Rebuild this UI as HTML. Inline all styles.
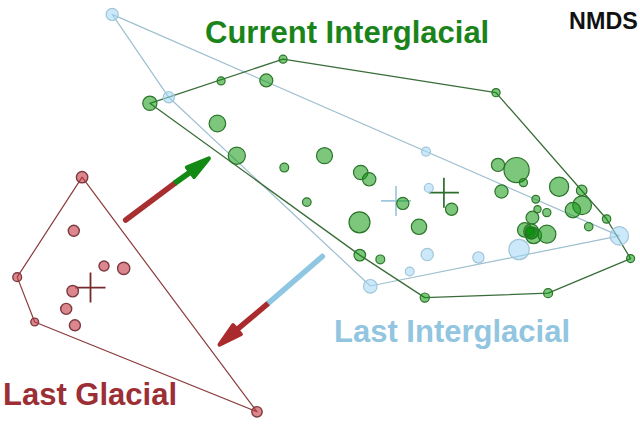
<!DOCTYPE html>
<html><head><meta charset="utf-8"><style>
html,body{margin:0;padding:0;background:#fff;width:640px;height:426px;overflow:hidden}
svg{display:block}
text{font-family:"Liberation Sans",sans-serif;font-weight:bold}
</style></head><body>
<svg width="640" height="426" viewBox="0 0 640 426" xmlns="http://www.w3.org/2000/svg">
<g transform="translate(0.1,0.4)">
<polygon points="112.1,14 619.2,235.5 370.2,285.6 168.7,96.9" fill="none" stroke="#9dbfcf" stroke-width="1.2" stroke-linejoin="round"/>
<polygon points="149.75,102.9 283,58.75 495.9,92.25 606.5,218.6 630.5,258.2 548,292.8 424.7,297.2 359.7,254.7" fill="none" stroke="#3a6d3a" stroke-width="1.3" stroke-linejoin="round"/>
<polygon points="82,176.8 256.9,411.4 34.6,321.6 17.1,276.75" fill="none" stroke="#8c3b3b" stroke-width="1.2" stroke-linejoin="round"/>
<path d="M380.9,200.5H410.9M395.9,185.5V215.5" stroke="#a0c8dc" stroke-width="1.7" fill="none"/>
<path d="M428.8,192.3H458.8M443.8,177.3V207.3" stroke="#2b6e2b" stroke-width="1.7" fill="none"/>
<path d="M75.4,287.2H105.4M90.4,272.2V302.2" stroke="#772a2e" stroke-width="1.8" fill="none"/>
<circle cx="112.1" cy="14" r="6.1" fill="rgba(160,215,245,0.55)" stroke="#a2c6d8" stroke-width="1.2"/><circle cx="168.7" cy="96.9" r="5.6" fill="rgba(160,215,245,0.55)" stroke="#a2c6d8" stroke-width="1.2"/><circle cx="425.9" cy="151.2" r="4.5" fill="rgba(160,215,245,0.55)" stroke="#a2c6d8" stroke-width="1.2"/><circle cx="428.7" cy="187.6" r="4.5" fill="rgba(160,215,245,0.55)" stroke="#a2c6d8" stroke-width="1.2"/><circle cx="427.1" cy="254.1" r="6.1" fill="rgba(160,215,245,0.55)" stroke="#a2c6d8" stroke-width="1.2"/><circle cx="409.6" cy="271.1" r="4.4" fill="rgba(160,215,245,0.55)" stroke="#a2c6d8" stroke-width="1.2"/><circle cx="370.2" cy="285.9" r="6.8" fill="rgba(160,215,245,0.55)" stroke="#a2c6d8" stroke-width="1.2"/><circle cx="478.3" cy="257.1" r="5.6" fill="rgba(160,215,245,0.55)" stroke="#a2c6d8" stroke-width="1.2"/><circle cx="518.9" cy="249.1" r="10.2" fill="rgba(160,215,245,0.55)" stroke="#a2c6d8" stroke-width="1.2"/><circle cx="619.2" cy="235.5" r="9.2" fill="rgba(160,215,245,0.55)" stroke="#a2c6d8" stroke-width="1.2"/>
<circle cx="149.75" cy="102.9" r="7.1" fill="rgba(10,150,10,0.53)" stroke="#2a7529" stroke-width="1.2"/><circle cx="221" cy="80.5" r="4" fill="rgba(10,150,10,0.53)" stroke="#2a7529" stroke-width="1.2"/><circle cx="266.2" cy="80" r="6.5" fill="rgba(10,150,10,0.53)" stroke="#2a7529" stroke-width="1.2"/><circle cx="283" cy="58.75" r="4" fill="rgba(10,150,10,0.53)" stroke="#2a7529" stroke-width="1.2"/><circle cx="495.9" cy="92.25" r="4.1" fill="rgba(10,150,10,0.53)" stroke="#2a7529" stroke-width="1.2"/><circle cx="217.3" cy="123.1" r="8.3" fill="rgba(10,150,10,0.53)" stroke="#2a7529" stroke-width="1.2"/><circle cx="236.7" cy="155.3" r="8.6" fill="rgba(10,150,10,0.53)" stroke="#2a7529" stroke-width="1.2"/><circle cx="284.2" cy="167.2" r="4.4" fill="rgba(10,150,10,0.53)" stroke="#2a7529" stroke-width="1.2"/><circle cx="324.4" cy="155.3" r="8" fill="rgba(10,150,10,0.53)" stroke="#2a7529" stroke-width="1.2"/><circle cx="306.7" cy="201.7" r="4.3" fill="rgba(10,150,10,0.53)" stroke="#2a7529" stroke-width="1.2"/><circle cx="360.6" cy="172.1" r="7.2" fill="rgba(10,150,10,0.53)" stroke="#2a7529" stroke-width="1.2"/><circle cx="369.1" cy="178.9" r="6.7" fill="rgba(10,150,10,0.53)" stroke="#2a7529" stroke-width="1.2"/><circle cx="402.7" cy="203" r="6.1" fill="rgba(10,150,10,0.53)" stroke="#2a7529" stroke-width="1.2"/><circle cx="359.4" cy="221.9" r="10.5" fill="rgba(10,150,10,0.53)" stroke="#2a7529" stroke-width="1.2"/><circle cx="418.9" cy="226.4" r="7.7" fill="rgba(10,150,10,0.53)" stroke="#2a7529" stroke-width="1.2"/><circle cx="451.5" cy="208.8" r="6.1" fill="rgba(10,150,10,0.53)" stroke="#2a7529" stroke-width="1.2"/><circle cx="359.7" cy="254.7" r="5.8" fill="rgba(10,150,10,0.53)" stroke="#2a7529" stroke-width="1.2"/><circle cx="380.2" cy="259" r="4.4" fill="rgba(10,150,10,0.53)" stroke="#2a7529" stroke-width="1.2"/><circle cx="424.7" cy="297.2" r="4.6" fill="rgba(10,150,10,0.53)" stroke="#2a7529" stroke-width="1.2"/><circle cx="548" cy="292.8" r="4.5" fill="rgba(10,150,10,0.53)" stroke="#2a7529" stroke-width="1.2"/><circle cx="630.5" cy="258.2" r="4" fill="rgba(10,150,10,0.53)" stroke="#2a7529" stroke-width="1.2"/><circle cx="606.5" cy="218.6" r="4.2" fill="rgba(10,150,10,0.53)" stroke="#2a7529" stroke-width="1.2"/><circle cx="581.6" cy="190" r="5.3" fill="rgba(10,150,10,0.53)" stroke="#2a7529" stroke-width="1.2"/><circle cx="582" cy="204.8" r="9.4" fill="rgba(10,150,10,0.53)" stroke="#2a7529" stroke-width="1.2"/><circle cx="572.8" cy="209.7" r="7.7" fill="rgba(10,150,10,0.53)" stroke="#2a7529" stroke-width="1.2"/><circle cx="559" cy="186.3" r="9.6" fill="rgba(10,150,10,0.53)" stroke="#2a7529" stroke-width="1.2"/><circle cx="588.6" cy="226.3" r="4.2" fill="rgba(10,150,10,0.53)" stroke="#2a7529" stroke-width="1.2"/><circle cx="497.9" cy="164.5" r="6.6" fill="rgba(10,150,10,0.53)" stroke="#2a7529" stroke-width="1.2"/><circle cx="516.5" cy="169.7" r="12.6" fill="rgba(10,150,10,0.53)" stroke="#2a7529" stroke-width="1.2"/><circle cx="523.3" cy="182.2" r="4.1" fill="rgba(10,150,10,0.53)" stroke="#2a7529" stroke-width="1.2"/><circle cx="501.4" cy="191.1" r="6.6" fill="rgba(10,150,10,0.53)" stroke="#2a7529" stroke-width="1.2"/><circle cx="535.7" cy="198.8" r="3.9" fill="rgba(10,150,10,0.53)" stroke="#2a7529" stroke-width="1.2"/><circle cx="537.4" cy="208.8" r="3.6" fill="rgba(10,150,10,0.53)" stroke="#2a7529" stroke-width="1.2"/><circle cx="546.7" cy="212.2" r="4.1" fill="rgba(10,150,10,0.53)" stroke="#2a7529" stroke-width="1.2"/><circle cx="532.3" cy="217.2" r="6.4" fill="rgba(10,150,10,0.53)" stroke="#2a7529" stroke-width="1.2"/><circle cx="524.6" cy="229.5" r="7.2" fill="rgba(10,150,10,0.53)" stroke="#2a7529" stroke-width="1.2"/><circle cx="531.1" cy="231" r="7.5" fill="rgba(10,150,10,0.53)" stroke="#2a7529" stroke-width="1.2"/><circle cx="533.5" cy="235.2" r="8" fill="rgba(10,150,10,0.53)" stroke="#2a7529" stroke-width="1.2"/><circle cx="530.2" cy="231.9" r="5" fill="rgba(10,150,10,0.53)" stroke="#2a7529" stroke-width="1.2"/><circle cx="531.5" cy="232.5" r="6" fill="rgba(10,150,10,0.53)" stroke="#2a7529" stroke-width="1.2"/><circle cx="529.5" cy="230.5" r="4" fill="rgba(10,150,10,0.53)" stroke="#2a7529" stroke-width="1.2"/><circle cx="546.8" cy="233.8" r="9" fill="rgba(10,150,10,0.53)" stroke="#2a7529" stroke-width="1.2"/>
<circle cx="82" cy="176.8" r="5.7" fill="rgba(195,55,65,0.6)" stroke="#7c3a40" stroke-width="1.4"/><circle cx="73.7" cy="230.4" r="5.5" fill="rgba(195,55,65,0.6)" stroke="#7c3a40" stroke-width="1.4"/><circle cx="103.9" cy="265.6" r="5" fill="rgba(195,55,65,0.6)" stroke="#7c3a40" stroke-width="1.4"/><circle cx="123.6" cy="268" r="6.1" fill="rgba(195,55,65,0.6)" stroke="#7c3a40" stroke-width="1.4"/><circle cx="72.6" cy="290.75" r="5.7" fill="rgba(195,55,65,0.6)" stroke="#7c3a40" stroke-width="1.4"/><circle cx="66.1" cy="308.5" r="5.5" fill="rgba(195,55,65,0.6)" stroke="#7c3a40" stroke-width="1.4"/><circle cx="74.8" cy="324.9" r="5.5" fill="rgba(195,55,65,0.6)" stroke="#7c3a40" stroke-width="1.4"/><circle cx="17.1" cy="276.75" r="4.4" fill="rgba(195,55,65,0.6)" stroke="#7c3a40" stroke-width="1.4"/><circle cx="34.6" cy="321.6" r="3.9" fill="rgba(195,55,65,0.6)" stroke="#7c3a40" stroke-width="1.4"/><circle cx="256.9" cy="411.4" r="5.2" fill="rgba(195,55,65,0.6)" stroke="#7c3a40" stroke-width="1.4"/>
<line x1="125.6" y1="219.6" x2="174.4" y2="183.0" stroke="#a82f2f" stroke-width="5.6" stroke-linecap="round"/><line x1="174.4" y1="183.0" x2="191.92242455206036" y2="170.49589720664764" stroke="#138a13" stroke-width="5.6"/><polygon points="208.8,158.0 193.8852927589178,176.50814706859683 186.74478006940487,166.86381824120275" fill="#138a13" stroke="#138a13" stroke-width="4" stroke-linejoin="round"/>
<line x1="322.2" y1="256.1" x2="268" y2="303" stroke="#8fc6e2" stroke-width="5.6" stroke-linecap="round"/><line x1="268" y1="303" x2="235.3454835046707" y2="330.5346585918143" stroke="#aa2b2d" stroke-width="5.6"/><polygon points="219.4,344.2 232.9597177218244,324.6773450754145 240.76848424078764,333.7890499352264" fill="#aa2b2d" stroke="#aa2b2d" stroke-width="4" stroke-linejoin="round"/>
</g>
<text x="205" y="43" font-size="31" fill="#1a841a">Current Interglacial</text>
<text x="334" y="342.2" font-size="31" fill="#92c5e0">Last Interglacial</text>
<text x="3" y="404.9" font-size="31" fill="#9c2f36">Last Glacial</text>
<text x="569" y="29.2" font-size="23.3" letter-spacing="0.1" fill="#111">NMDS</text>
</svg></body></html>
